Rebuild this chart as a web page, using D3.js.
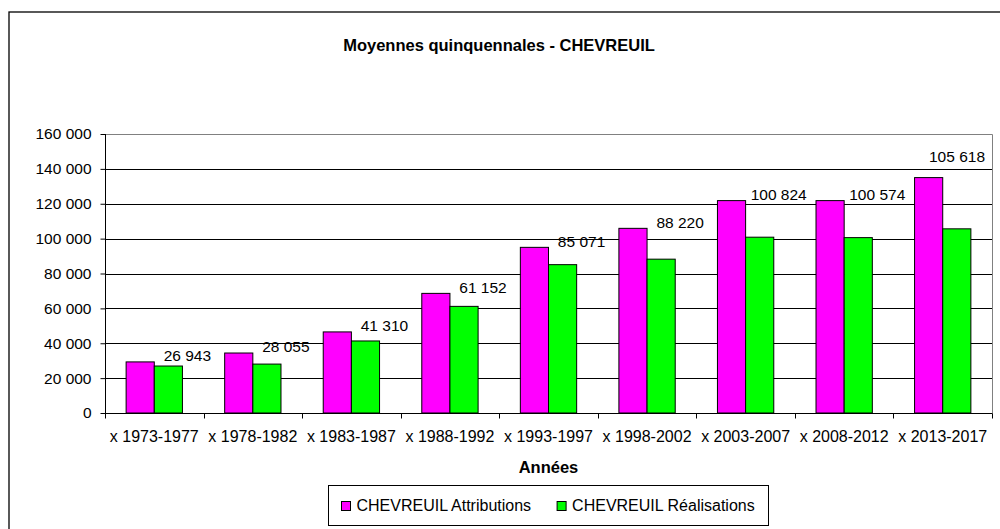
<!DOCTYPE html>
<html>
<head>
<meta charset="utf-8">
<title>Moyennes quinquennales - CHEVREUIL</title>
<script src="https://cdn.jsdelivr.net/npm/d3@7"></script>
<style>
    body { margin: 0; background: #ffffff; }
    text { font-family: "Liberation Sans", Arial, sans-serif; fill: #000000; }
</style>
</head>
<body>
<script>

// data
var periods = ["x 1973-1977", "x 1978-1982", "x 1983-1987", "x 1988-1992", "x 1993-1997",
               "x 1998-2002", "x 2003-2007", "x 2008-2012", "x 2013-2017"];
var attributions = [29300, 34400, 46500, 68600, 95000, 105900, 121800, 121800, 135000];
var realisations = [26943, 28055, 41310, 61152, 85071, 88220, 100824, 100574, 105618];
var seriesNames = ["CHEVREUIL Attributions", "CHEVREUIL Réalisations"];
var yTicks = [0, 20000, 40000, 60000, 80000, 100000, 120000, 140000, 160000];

// layout (note: "top" is taken by window.top, so use plot* names)
var canvasX = 1000;
var canvasY = 529;
var plotLeft = 105;
var plotRight = 992;
var plotTop = 134;
var plotBottom = 413;
var colors = ["#ff00ff", "#00ff00"];

// french number format: 26 943
var fr = d3.formatLocale({decimal: ",", thousands: " ", grouping: [3], currency: ["", " €"]});
var fmt = fr.format(",");

var svg = d3.select("body")
            .append("svg")
            .attr("width", canvasX)
            .attr("height", canvasY);

// chart area border (cut off at right and bottom)
svg.append("rect")
   .attr("x", 9)
   .attr("y", 12)
   .attr("width", canvasX + 20)
   .attr("height", canvasY + 20)
   .attr("fill", "none")
   .attr("stroke", "#000000")
   .attr("stroke-width", 1.3);

// scales
var scaleX = d3.scaleBand()
               .domain(periods)
               .range([plotLeft, plotRight])
               .padding(0);

var scaleInner = d3.scaleBand()
                   .domain(seriesNames)
                   .range([0, scaleX.bandwidth()])
                   .paddingInner(0)
                   .paddingOuter(0.75);

var scaleY = d3.scaleLinear()
               .domain([0, 160000])
               .range([plotBottom, plotTop]);

// gridlines
svg.append("g")
   .selectAll("line")
   .data(yTicks.slice(1, -1))
   .enter()
   .append("line")
   .attr("x1", plotLeft)
   .attr("x2", plotRight)
   .attr("y1", function(d) { return Math.round(scaleY(d)) + 0.5; })
   .attr("y2", function(d) { return Math.round(scaleY(d)) + 0.5; })
   .attr("stroke", "#000000")
   .attr("stroke-width", 1);

// plot area border, top and right in grey
svg.append("path")
   .attr("d", "M" + plotLeft + "," + (plotTop + 0.5) + "H" + (plotRight + 0.5) + "V" + plotBottom)
   .attr("fill", "none")
   .attr("stroke", "#808080")
   .attr("stroke-width", 1);

// bars
var groups = svg.append("g")
                .selectAll("g")
                .data(periods)
                .enter()
                .append("g")
                .attr("transform", function(d) { return "translate(" + scaleX(d) + ",0)"; });

groups.selectAll("rect")
      .data(function(d, i) { return [attributions[i], realisations[i]]; })
      .enter()
      .append("rect")
      .attr("x", function(d, j) { return scaleInner(seriesNames[j]); })
      .attr("y", function(d) { return scaleY(d); })
      .attr("width", scaleInner.bandwidth())
      .attr("height", function(d) { return scaleY(0) - scaleY(d); })
      .attr("fill", function(d, j) { return colors[j]; })
      .attr("stroke", "#000000")
      .attr("stroke-width", 1);

// y axis
var yAxis = d3.axisLeft(scaleY)
              .tickValues(yTicks)
              .tickSize(5)
              .tickPadding(9)
              .tickFormat(fmt);

var gy = svg.append("g")
            .attr("transform", "translate(" + (plotLeft + 0.5) + ",0)")
            .call(yAxis);
gy.select(".domain").attr("stroke", "#000000").attr("d", "M0," + plotTop + "V" + plotBottom);
gy.selectAll(".tick line").attr("stroke", "#000000");
gy.selectAll("text").style("font-size", "15.5px").attr("fill", "#000000");

// x axis with ticks between categories
var xAxis = d3.axisBottom(scaleX)
              .tickSize(0)
              .tickPadding(17);

var gx = svg.append("g")
            .attr("transform", "translate(0," + (plotBottom + 0.5) + ")")
            .call(xAxis);
gx.select(".domain").attr("stroke", "#000000").attr("d", "M" + plotLeft + ",0H" + (plotRight + 0.5));
gx.selectAll("text").style("font-size", "16px").attr("fill", "#000000");

var edges = periods.map(function(d) { return scaleX(d); }).concat([plotRight]);
gx.selectAll(".edge")
  .data(edges)
  .enter()
  .append("line")
  .attr("class", "edge")
  .attr("x1", function(d) { return Math.round(d) + 0.5; })
  .attr("x2", function(d) { return Math.round(d) + 0.5; })
  .attr("y1", 0)
  .attr("y2", 5)
  .attr("stroke", "#000000");

// data labels of the realisations, next to each group
var labels = svg.append("g")
                .selectAll("text")
                .data(realisations)
                .enter()
                .append("text")
                .attr("dy", "0.35em")
                .attr("text-anchor", "middle")
                .style("font-size", "15.5px")
                .text(function(d) { return fmt(d); });

// keep the labels inside the plot area, and above the pink bar when they would hit it
labels.each(function(d, i) {
    var cx = scaleX(periods[i]) + scaleInner(seriesNames[1]) + scaleInner.bandwidth() / 2 + 19;
    var half = this.getComputedTextLength() / 2;
    var x = Math.min(cx, plotRight - 7 - half);
    var pinkRight = scaleX(periods[i]) + scaleInner(seriesNames[0]) + scaleInner.bandwidth();
    var y = scaleY(attributions[i]) - 6;
    if (x - half < pinkRight) {
        y = scaleY(attributions[i]) - 21;
    }
    d3.select(this).attr("x", x).attr("y", y);
});

// title
svg.append("text")
   .attr("x", 499)
   .attr("y", 45)
   .attr("dy", "0.35em")
   .attr("text-anchor", "middle")
   .style("font-size", "16.5px")
   .style("font-weight", "bold")
   .text("Moyennes quinquennales - CHEVREUIL");

// x axis title
svg.append("text")
   .attr("x", (plotLeft + plotRight) / 2)
   .attr("y", 467)
   .attr("dy", "0.35em")
   .attr("text-anchor", "middle")
   .style("font-size", "16.5px")
   .style("font-weight", "bold")
   .text("Années");

// legend
var legend = svg.append("g")
                .attr("transform", "translate(328.5,485.5)");

legend.append("rect")
      .attr("width", 440)
      .attr("height", 40)
      .attr("fill", "#ffffff")
      .attr("stroke", "#000000")
      .attr("stroke-width", 1);

var itemX = 13;
seriesNames.forEach(function(name, i) {
    legend.append("rect")
          .attr("x", itemX)
          .attr("y", 16)
          .attr("width", 9)
          .attr("height", 9)
          .attr("fill", colors[i])
          .attr("stroke", "#000000");

    var label = legend.append("text")
                      .attr("x", itemX + 15)
                      .attr("y", 20)
                      .attr("dy", "0.35em")
                      .style("font-size", "16px")
                      .text(name);

    itemX = itemX + 15 + label.node().getComputedTextLength() + 26;
});

</script>
</body>
</html>
